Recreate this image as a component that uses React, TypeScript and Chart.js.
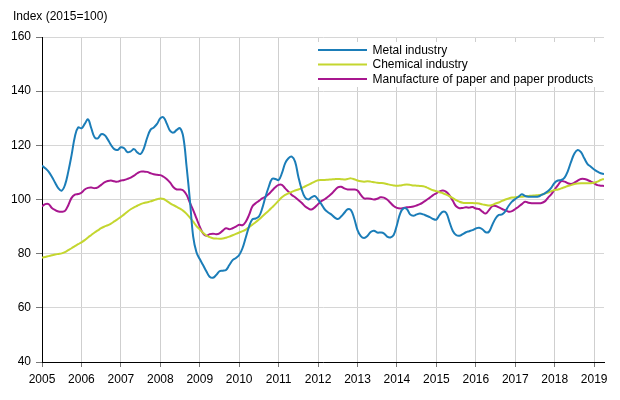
import React, { useEffect, useRef } from "react";
import { Chart, registerables } from "chart.js";

Chart.register(...registerables);

const yearLabels = ["2005", "2006", "2007", "2008", "2009", "2010", "2011", "2012", "2013", "2014", "2015", "2016", "2017", "2018", "2019"];

const metal = [
  112.5, 111.5, 110.3, 108.4, 106.2, 104.1, 103.3, 105.4, 110.3, 116.4, 123.2, 126.6,
  126.3, 127.9, 129.6, 126.3, 123.0, 122.6, 124.1, 123.8, 122.2, 120.1, 118.6, 118.3,
  119.3, 118.9, 117.5, 117.8, 118.6, 117.4, 116.8, 118.9, 122.8, 125.7, 126.6, 127.9,
  130.0, 130.3, 127.9, 125.3, 124.7, 125.7, 126.3, 123.0, 112.1, 99.8, 86.3, 80.5,
  78.0, 75.8, 73.5, 71.5, 71.1, 72.1, 73.5, 73.7, 74.0, 75.8, 77.6, 78.4,
  79.5, 82.0, 86.0, 90.0, 92.7, 93.0, 93.7, 96.7, 101.0, 104.7, 107.6, 107.6,
  107.2, 109.7, 113.4, 115.2, 115.8, 114.0, 108.4, 103.8, 100.8, 100.0, 100.8, 101.3,
  100.0, 98.3, 96.4, 95.3, 94.5, 93.4, 92.8, 93.7, 95.1, 96.4, 96.1, 93.0,
  88.7, 86.5, 85.8, 86.5, 88.0, 88.5, 87.8, 87.8, 87.5, 86.3, 86.0, 86.9,
  90.6, 94.9, 96.7, 96.5, 94.5, 94.0, 94.5, 94.8, 94.5, 94.0, 93.5, 92.8,
  92.6, 94.3, 95.5, 95.0, 91.6, 88.4, 86.9, 86.6, 87.2, 87.9, 88.3, 88.7,
  89.3, 89.6, 89.0, 87.9, 88.1, 90.6, 93.0, 94.3, 94.5, 95.7, 97.7, 99.2,
  100.2, 101.0, 101.9, 101.3, 101.0, 101.0, 101.0, 101.1, 101.7, 102.3, 103.1, 104.4,
  106.2, 107.0, 107.2, 108.1, 110.5, 114.0, 117.0, 118.3, 117.5, 115.2, 113.1, 112.1,
  111.1, 110.3, 109.7, 109.4,
];

const chemical = [
  78.5, 78.8, 79.1, 79.4, 79.7, 79.9, 80.1, 80.6, 81.3, 82.0, 82.8, 83.5,
  84.2, 85.0, 86.0, 86.9, 87.8, 88.6, 89.4, 90.0, 90.5, 91.1, 91.9, 92.7,
  93.6, 94.5, 95.5, 96.4, 97.1, 97.7, 98.3, 98.7, 99.0, 99.3, 99.7, 100.1,
  100.4, 100.2, 99.4, 98.6, 97.9, 97.3, 96.6, 95.8, 94.7, 93.3, 91.8, 90.2,
  89.0, 87.7, 86.7, 86.1, 85.7, 85.6, 85.5, 85.6, 85.9, 86.3, 86.8, 87.3,
  87.8, 88.3, 88.9, 89.8, 90.7, 91.6, 92.6, 93.7, 94.8, 95.9, 97.1, 98.3,
  99.6, 100.8, 101.7, 102.3, 102.8, 103.3, 103.7, 104.2, 104.8, 105.4, 106.0, 106.6,
  107.1, 107.2, 107.2, 107.3, 107.4, 107.5, 107.6, 107.5, 107.4, 107.6, 107.8, 107.5,
  107.0, 106.7, 106.6, 106.7, 106.6, 106.4, 106.2, 106.1, 106.0, 105.7, 105.4, 105.2,
  105.1, 105.2, 105.4, 105.5, 105.4, 105.2, 105.1, 105.0, 104.9, 104.5, 103.9, 103.4,
  103.1, 102.7, 102.3, 101.8, 101.2, 100.5, 99.8, 99.2, 98.8, 98.7, 98.7, 98.7,
  98.6, 98.5, 98.2, 98.0, 97.8, 98.0, 98.5, 98.9, 99.5, 100.0, 100.4, 100.7,
  100.8, 101.0, 101.0, 101.2, 101.3, 101.4, 101.5, 101.6, 101.8, 102.2, 102.6, 103.1,
  103.5, 103.7, 104.1, 104.5, 105.0, 105.3, 105.7, 105.9, 106.0, 106.0, 106.0, 106.0,
  106.2, 106.6, 107.2, 107.6,
];

const paper = [
  97.4, 98.3, 98.3, 96.9, 96.1, 95.6, 95.5, 95.8, 97.9, 100.6, 101.8, 102.0,
  102.5, 103.7, 104.3, 104.4, 104.2, 104.5, 105.4, 106.3, 106.8, 107.0, 106.7, 106.6,
  107.0, 107.2, 107.6, 108.1, 108.8, 109.7, 110.3, 110.3, 110.2, 109.7, 109.3, 109.1,
  109.0, 108.4, 107.5, 106.2, 104.5, 103.7, 103.7, 103.3, 101.7, 98.8, 96.1, 93.0,
  90.0, 87.5, 86.6, 87.2, 87.4, 87.2, 87.5, 88.5, 89.4, 89.0, 89.4, 90.0,
  90.7, 90.5, 91.8, 94.3, 97.4, 98.6, 99.5, 100.4, 101.0, 102.0, 103.3, 104.5,
  105.4, 105.4, 104.1, 102.9, 101.7, 100.8, 99.8, 98.8, 97.5, 96.7, 96.3, 97.1,
  98.3, 99.4, 100.1, 101.0, 102.0, 103.3, 104.5, 104.7, 104.1, 103.7, 103.7, 103.7,
  103.3, 101.7, 100.4, 100.4, 100.3, 100.0, 100.3, 100.8, 100.7, 100.0, 98.8, 97.6,
  96.9, 96.7, 96.9, 97.1, 97.2, 97.4, 97.8, 98.3, 99.0, 99.8, 100.7, 101.6,
  102.3, 103.0, 103.3, 102.8, 101.5, 99.5, 97.5, 96.8, 96.9, 97.1, 97.0, 97.2,
  96.7, 96.5, 95.5, 94.8, 96.1, 97.5, 97.6, 97.1, 96.5, 96.0, 95.5, 95.7,
  96.5, 97.3, 98.3, 99.2, 98.8, 98.6, 98.6, 98.6, 98.7, 99.3, 100.7, 102.0,
  103.7, 105.3, 106.8, 106.6, 106.0, 105.7, 106.2, 107.0, 107.6, 107.6, 107.2, 106.6,
  106.0, 105.3, 105.1, 105.0,
];

const seriesNames = ["Metal industry", "Chemical industry", "Manufacture of paper and paper products"];
const seriesColors = ["#1b7db8", "#c4d62f", "#a8168f"];
const titleText = "Index (2015=100)";

const FONT = "'Liberation Sans', Arial, Helvetica, sans-serif";

const overlayPlugin = {
  id: "overlay",
  afterDraw(chart: any) {
    const ctx = chart.ctx as CanvasRenderingContext2D;
    ctx.save();
    ctx.font = `12px ${FONT}`;
    ctx.fillStyle = "#000";
    ctx.textBaseline = "middle";
    ctx.textAlign = "left";
    ctx.fillText(titleText, 13, 17);

    // legend box
    ctx.fillStyle = "#fff";
    ctx.fillRect(314, 42, 287, 45);
    const rows = [50, 64.5, 79];
    chart.data.datasets.forEach((ds: any, i: number) => {
      ctx.strokeStyle = ds.borderColor;
      ctx.lineWidth = 2;
      ctx.beginPath();
      ctx.moveTo(318, rows[i]);
      ctx.lineTo(367, rows[i]);
      ctx.stroke();
      ctx.fillStyle = "#000";
      ctx.fillText(ds.label, 372.5, rows[i] + 0.5);
    });
    ctx.restore();
  },
};

export default function App() {
  const ref = useRef<HTMLCanvasElement | null>(null);

  useEffect(() => {
    if (!ref.current) return;
    const toPoints = (arr: number[]) => arr.map((v, i) => ({ x: i, y: v }));
    const all = [metal, chemical, paper];
    const chart = new Chart(ref.current, {
      type: "line",
      data: {
        datasets: all.map((arr, i) => ({
          label: seriesNames[i],
          data: toPoints(arr),
          borderColor: seriesColors[i],
          backgroundColor: seriesColors[i],
          borderWidth: 2,
          pointRadius: 0,
          tension: 0.4,
          fill: false,
        })),
      },
      options: {
        animation: false,
        responsive: false,
        maintainAspectRatio: false,
        layout: { padding: { top: 37, right: 16, left: 0, bottom: 0 } },
        plugins: {
          legend: { display: false },
          title: { display: false },
          tooltip: { enabled: false },
        },
        scales: {
          x: {
            type: "linear",
            min: 0,
            max: metal.length - 1,
            afterBuildTicks: (s: any) => {
              s.ticks = yearLabels.map((_, i) => ({ value: i * 12 }));
            },
            afterFit: (s: any) => {
              s.height = 38;
            },
            ticks: {
              autoSkip: false,
              maxRotation: 0,
              padding: 5,
              color: "#000",
              font: { family: FONT, size: 12 },
              callback: (v: any) => yearLabels[Math.round(Number(v) / 12)] ?? "",
            },
            grid: { color: "#cfcfcf", tickColor: "#777", tickLength: 5, lineWidth: 1 },
            border: { color: "#000", width: 1 },
          },
          y: {
            min: 40,
            max: 160,
            afterFit: (s: any) => {
              s.width = 42;
            },
            ticks: {
              stepSize: 20,
              padding: 5,
              color: "#000",
              font: { family: FONT, size: 12 },
            },
            grid: { color: "#d6d6d6", tickColor: "#777", tickLength: 6, lineWidth: 1 },
            border: { color: "#000", width: 1 },
          },
        },
      },
      plugins: [overlayPlugin],
    });
    return () => chart.destroy();
  }, []);

  return (
    <div style={{ position: "fixed", left: 0, top: 0, width: 620, height: 400, background: "#fff" }}>
      <canvas ref={ref} width={620} height={400} style={{ width: 620, height: 400, display: "block" }} />
    </div>
  );
}
